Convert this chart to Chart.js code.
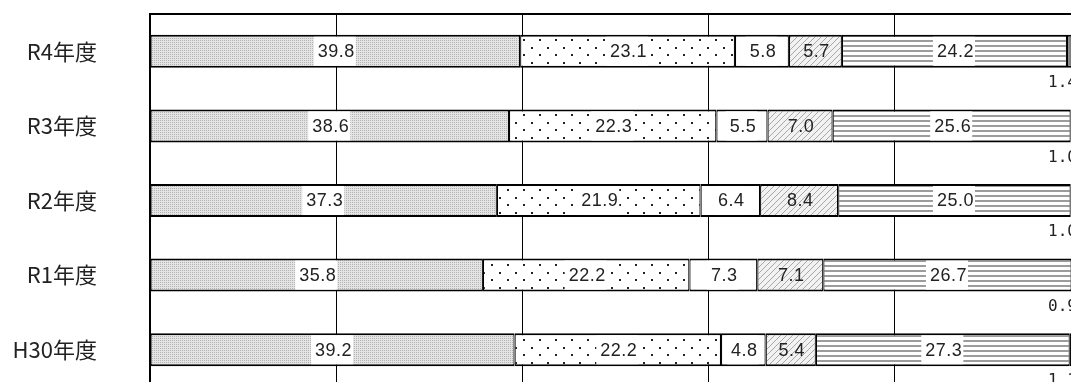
<!DOCTYPE html>
<html>
<head>
<meta charset="utf-8">
<script src="https://cdn.jsdelivr.net/npm/chart.js@4"></script>
<style>
  body { margin: 0; background: #fff; }
  #wrap { width: 1071px; height: 382px; overflow: hidden; }
</style>
</head>
<body>
<div id="wrap">
  <canvas id="barChart" width="1100" height="400"></canvas>
</div>
<script>
// data (percent)
const years = ["R4年度", "R3年度", "R2年度", "R1年度", "H30年度"];
const seg1 = [39.8, 38.6, 37.3, 35.8, 39.2];
const seg2 = [23.1, 22.3, 21.9, 22.2, 22.2];
const seg3 = [5.8, 5.5, 6.4, 7.3, 4.8];
const seg4 = [5.7, 7.0, 8.4, 7.1, 5.4];
const seg5 = [24.2, 25.6, 25.0, 26.7, 27.3];
const seg6 = [1.4, 1.0, 1.0, 0.9, 1.1];
const xTicks = [0, 20, 40, 60, 80, 100];

// small tiles used as fill patterns
function makeTile(w, h, draw) {
    const c = document.createElement("canvas");
    c.width = w; c.height = h;
    const g = c.getContext("2d");
    draw(g);
    return document.getElementById("barChart").getContext("2d").createPattern(c, "repeat");
}

const grayFill = makeTile(2, 2, g => {
    g.fillStyle = "#e4e4e4"; g.fillRect(0, 0, 2, 2);
    g.fillStyle = "#b4b4b4"; g.fillRect(0, 0, 1, 1);
});
const dotFill = makeTile(16, 15, g => {
    g.fillStyle = "#fff"; g.fillRect(0, 0, 16, 15);
    g.fillStyle = "#222"; g.fillRect(3, 2, 2, 2); g.fillRect(11, 9, 2, 2);
});
const hatchFill = makeTile(6, 6, g => {
    g.fillStyle = "#f2f2f2"; g.fillRect(0, 0, 6, 6);
    g.strokeStyle = "#a8a8a8"; g.lineWidth = 1;
    g.beginPath(); g.moveTo(0, 6); g.lineTo(6, 0); g.stroke();
    g.beginPath(); g.moveTo(-1, 1); g.lineTo(1, -1); g.stroke();
    g.beginPath(); g.moveTo(5, 7); g.lineTo(7, 5); g.stroke();
});
const lineFill = makeTile(4, 5, g => {
    g.fillStyle = "#fff"; g.fillRect(0, 0, 4, 5);
    g.fillStyle = "#9c9c9c"; g.fillRect(0, 0, 4, 2);
});

const fills = [grayFill, dotFill, "#ffffff", hatchFill, lineFill, "#808080"];
const series = [seg1, seg2, seg3, seg4, seg5, seg6];

// value labels: centred in the segment on a white box, last one under the bar
const labelPlugin = {
    id: "segLabels",
    afterDatasetsDraw(chart) {
        const ctx = chart.ctx;
        ctx.save();
        chart.data.datasets.forEach((ds, i) => {
            const meta = chart.getDatasetMeta(i);
            meta.data.forEach((bar, j) => {
                const p = bar.getProps(["x", "y", "base", "height"], true);
                const txt = ds.data[j].toFixed(1);
                if (i === chart.data.datasets.length - 1) {
                    ctx.font = "16px 'DejaVu Sans Mono'";
                    ctx.letterSpacing = "0px";
                    ctx.fillStyle = "#222";
                    ctx.textAlign = "right";
                    ctx.textBaseline = "middle";
                    ctx.fillText(txt, p.x - 3, p.y + p.height / 2 + 15);
                    return;
                }
                ctx.font = "18px 'Liberation Sans'";
                ctx.letterSpacing = "0.5px";
                const cx = (p.x + p.base) / 2;
                const w = ctx.measureText(txt).width;
                if (i !== 3) {
                    ctx.fillStyle = "#fff";
                    ctx.fillRect(cx - w / 2 - 3, p.y - p.height / 2 + 2, w + 5, p.height - 4);
                }
                ctx.fillStyle = "#222";
                ctx.textAlign = "center";
                ctx.textBaseline = "middle";
                ctx.fillText(txt, cx + 1, p.y + 1);
            });
        });
        ctx.restore();
    }
};

const CHART = document.getElementById("barChart");
let barChart = new Chart(CHART, {
    type: "bar",
    data: {
        labels: years,
        datasets: series.map((d, i) => ({
            label: "s" + (i + 1),
            data: d,
            backgroundColor: fills[i],
            borderColor: "#000",
            borderWidth: { top: 2, bottom: 2, left: 1.2, right: 1.2 },
            borderSkipped: false,
            categoryPercentage: 1,
            barPercentage: 0.443
        }))
    },
    options: {
        indexAxis: "y",
        responsive: false,
        animation: false,
        layout: { padding: { top: 14, right: 20, bottom: 13, left: 0 } },
        plugins: { legend: { display: false }, tooltip: { enabled: false } },
        scales: {
            x: {
                position: "top",
                stacked: true,
                min: 0,
                max: 100,
                afterBuildTicks: s => { s.ticks = xTicks.map(v => ({ value: v })); },
                ticks: { display: false },
                grid: { color: "#000", lineWidth: 1, drawTicks: false },
                border: { color: "#000", width: 2 }
            },
            y: {
                stacked: true,
                afterFit: s => { s.width = 150; s.paddingTop = 0; s.paddingBottom = 0; },
                grid: { display: false },
                border: { color: "#000", width: 2 },
                ticks: {
                    padding: 45,
                    color: "#222",
                    font: { family: "'Noto Sans CJK JP'", size: 22 }
                }
            }
        }
    },
    plugins: [labelPlugin]
});
</script>
</body>
</html>
